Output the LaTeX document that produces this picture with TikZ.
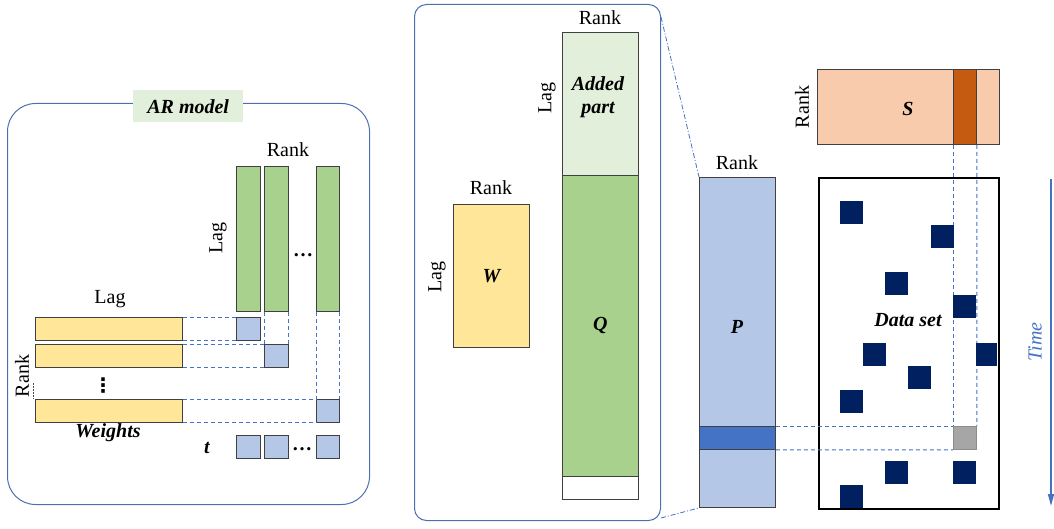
\documentclass[tikz,border=0pt]{standalone}
\usepackage{fontspec}
\setmainfont{Liberation Serif}
\newfontfamily\symfont{DejaVu Sans}
\usetikzlibrary{positioning,arrows.meta}

\definecolor{lagyel}{HTML}{FFE699}
\definecolor{rankgrn}{HTML}{A9D18E}
\definecolor{addgrn}{HTML}{E2EFDA}
\definecolor{pblue}{HTML}{B4C7E7}
\definecolor{bandblue}{HTML}{4472C4}
\definecolor{sorange}{HTML}{F8CBAD}
\definecolor{sband}{HTML}{C55A11}
\definecolor{navy}{HTML}{002060}
\definecolor{frameblue}{HTML}{4D6FAE}

\tikzset{
  mat/.style={draw=black!75, line width=0.9pt, inner sep=0pt, anchor=north west},
  lbl/.style={font=\fontsize{20}{23}\selectfont, inner sep=0pt},
  bi/.style={inner sep=0pt, font=\fontsize{20}{23}\selectfont\bfseries\itshape},
  guide/.style={draw=bandblue, dash pattern=on 4pt off 3pt, line width=0.9pt},
  link/.style={draw=bandblue, dash pattern=on 5pt off 2pt on 1pt off 2pt, line width=0.8pt},
  cell/.style={fill=navy, inner sep=0pt, anchor=north west, minimum size=23pt},
}

\begin{document}
\begin{tikzpicture}[x=1pt,y=-1pt]
\useasboundingbox (0,0) rectangle (1054,529);

% AR model
\node[draw=frameblue, line width=1pt, rounded corners=28pt, anchor=north west,
      minimum width=362pt, minimum height=401pt] (arframe) at (7,103) {};
\node[fill=addgrn, bi, anchor=north west, minimum width=110pt, minimum height=32pt] (artitle) at (133,90) {AR model};

\node[mat, fill=rankgrn, minimum width=24pt, minimum height=145pt] (c1) at (236,166) {};
\node[mat, fill=rankgrn, minimum width=24pt, minimum height=145pt] (c2) at (264,166) {};
\node[mat, fill=rankgrn, minimum width=23pt, minimum height=145pt] (c3) at (316,166) {};
\node[lbl] (rankc) at (288,150) {Rank};
\node[lbl, rotate=90] (lagc) at (218,238) {Lag};
\node[lbl, font=\fontsize{20}{23}\selectfont\bfseries] (dotsc) at (303,255) {…};

\node[mat, fill=lagyel, minimum width=147pt, minimum height=23pt] (w1) at (35,317) {};
\node[mat, fill=lagyel, minimum width=147pt, minimum height=23pt] (w2) at (35,344) {};
\node[mat, fill=lagyel, minimum width=147pt, minimum height=23pt] (w3) at (35,399) {};
\node[lbl] (lagw) at (110,299) {Lag};
\node[lbl, font=\fontsize{20}{23}\symfont\bfseries] (dotsw) at (103,386) {⋮};
\node[lbl, rotate=90] (rankw) at (22,376) {Rank};
\draw[black!70, dash pattern=on 1.5pt off 1.5pt] (33,383) -- (33,399);
\node[bi] (weights) at (108,433) {Weights};

\node[mat, fill=pblue, minimum width=24pt, minimum height=23pt] (q1) at (236,317) {};
\node[mat, fill=pblue, minimum width=24pt, minimum height=23pt] (q2) at (264,344) {};
\node[mat, fill=pblue, minimum width=23pt, minimum height=23pt] (q3) at (316,399) {};

\draw[guide] (w1.north east) -- (q1.north west);
\draw[guide] (w1.south east) -- (q1.south west);
\draw[guide] (w2.north east) -- (q2.north west);
\draw[guide] (w2.south east) -- (q2.south west);
\draw[guide] (w3.north east) -- (q3.north west);
\draw[guide] (w3.south east) -- (q3.south west);
\draw[guide] (c2.south west) -- (q2.north west);
\draw[guide] (c2.south east) -- (q2.north east);
\draw[guide] (c3.south west) -- (q3.north west);
\draw[guide] (c3.south east) -- (q3.north east);

\node[bi] (tlbl) at (207,448) {t};
\node[mat, fill=pblue, minimum width=24pt, minimum height=23pt] (t1) at (236,435) {};
\node[mat, fill=pblue, minimum width=24pt, minimum height=23pt] (t2) at (264,435) {};
\node[mat, fill=pblue, minimum width=23pt, minimum height=23pt] (t3) at (316,435) {};
\node[lbl, font=\fontsize{20}{23}\selectfont\bfseries] (dotst) at (302,449) {…};

% W and Q
\node[draw=frameblue, line width=1pt, rounded corners=12pt, anchor=north west,
      minimum width=246pt, minimum height=516pt] (midframe) at (414,4) {};

\node[mat, fill=lagyel, minimum width=76pt, minimum height=143pt, bi] (wmat) at (453,204) {W};
\node[lbl] (rankwm) at (491,188) {Rank};
\node[lbl, rotate=90] (lagwm) at (437,277) {Lag};

\node[mat, fill=addgrn, minimum width=76pt, minimum height=143pt] (added) at (562,32) {};
\node[bi, align=center] (addedlbl) at (598,97) {Added\\part};
\node[mat, fill=rankgrn, minimum width=76pt, minimum height=301pt, bi] (qmat) at (562,175) {Q};
\node[mat, fill=white, minimum width=76pt, minimum height=23pt] (qrest) at (562,476) {};
\node[lbl] (rankq) at (600,18) {Rank};
\node[lbl, rotate=90] (lagq) at (547,98) {Lag};

% P, S and data set
\node[mat, fill=pblue, minimum width=76pt, minimum height=330pt] (pmat) at (699,177) {};
\node[mat, fill=bandblue, minimum width=76pt, minimum height=23pt] (pband) at (699,426) {};
\node[bi] (plbl) at (737,327) {P};
\node[lbl] (rankp) at (737,163) {Rank};

\draw[link] ([yshift=-13pt]midframe.north east) -- (pmat.north west);
\draw[link] ([yshift=3pt]midframe.south east) -- (pmat.south west);

\node[mat, fill=sorange, minimum width=182pt, minimum height=75pt] (smat) at (817,69) {};
\node[mat, fill=sband, minimum width=23pt, minimum height=75pt] (sband) at (953,69) {};
\node[bi] (slbl) at (908,109) {S};
\node[lbl, rotate=90] (ranks) at (802,107) {Rank};

\node[draw=black, line width=2pt, inner sep=0pt, anchor=north west,
      minimum width=180pt, minimum height=331pt] (data) at (818,177) {};
\node[bi] (datalbl) at (908,320) {Data set};

\node[fill=black!35, draw=black!45, line width=0.8pt, inner sep=0pt, anchor=north west,
      minimum size=23pt] (hit) at (953,426) {};
\draw[guide] (sband.south west) -- (hit.north west);
\draw[guide] (sband.south east) -- (hit.north east);
\draw[guide] (pband.north east) -- (hit.north west);
\draw[guide] (pband.south east) -- (hit.south west);

\foreach \cx/\cy [count=\i] in {840/201, 931/225, 885/272, 953/295, 863/343,
    908/366, 840/390, 885/461, 953/461, 840/485}
  \node[cell] (obs\i) at (\cx,\cy) {};
\node[cell, minimum width=21pt] (obsedge) at (976,343) {};

\coordinate (tstart) at (1051,179);
\coordinate (tend) at (1051,506);
\draw[bandblue, line width=1.6pt, -{Triangle[length=12pt,width=6pt]}] (tstart) -- (tend);
\node[lbl, rotate=90, font=\fontsize{20}{23}\selectfont\itshape, text=bandblue] (timelbl) at (1035,342) {Time};

\end{tikzpicture}
\end{document}
